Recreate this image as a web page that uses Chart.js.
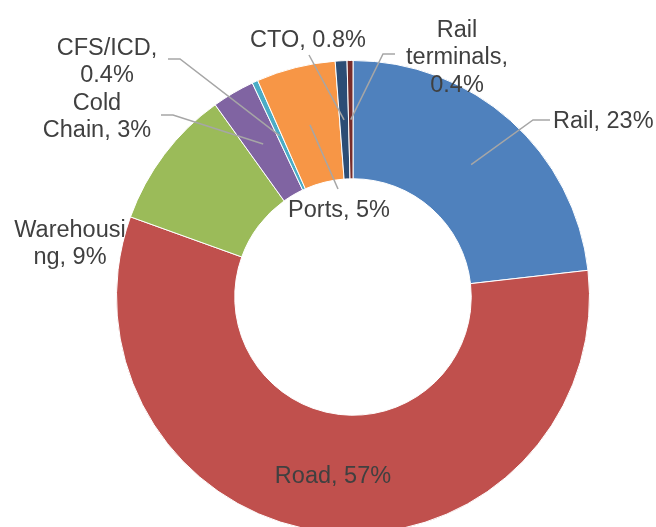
<!DOCTYPE html>
<html>
<head>
<meta charset="utf-8">
<script src="https://cdn.jsdelivr.net/npm/chart.js@4/dist/chart.umd.min.js"></script>
<style>
html,body{margin:0;padding:0;background:#fff;overflow:hidden;}
#wrap{position:relative;width:656px;height:594px;}
</style>
</head>
<body>
<div id="wrap"><canvas id="c" width="656" height="594"></canvas></div>
<script>
// ---- data ----
const categories = ["Rail", "Road", "Warehousing", "Cold Chain", "CFS/ICD", "Ports", "CTO", "Rail terminals"];
const shares = [23.2, 57.3, 9.6, 2.9, 0.4, 5.4, 0.8, 0.4];
const shownPct = ["23%", "57%", "9%", "3%", "0.4%", "5%", "0.8%", "0.4%"];
const labelLines = [
  ["Rail, 23%"],
  ["Road, 57%"],
  ["Warehousi", "ng, 9%"],
  ["Cold", "Chain, 3%"],
  ["CFS/ICD,", "0.4%"],
  ["Ports, 5%"],
  ["CTO, 0.8%"],
  ["Rail", "terminals,", "0.4%"]
];
const colors = ["#4F81BD", "#C0504D", "#9BBB59", "#8064A2", "#4BACC6", "#F79646", "#2C4D75", "#772C2A"];

// ---- label layout (positions only) ----
const labelLayout = [
  {x: 553, y: 128, align: "left",   leader: [[550,120],[533,120]]},
  {x: 333, y: 483, align: "center", leader: null},
  {x: 70,  y: 237, align: "center", leader: null, under: true},
  {x: 97,  y: 110, align: "center", leader: [[161,115],[173,115]]},
  {x: 107, y: 55,  align: "center", leader: [[168,59],[180,59]]},
  {x: 339, y: 217, align: "center", leader: [[338,189]]},
  {x: 308, y: 47,  align: "center", leader: [[309,55]]},
  {x: 457, y: 37,  align: "center", leader: [[395,54],[383,54]]}
];
const lineHeight = 27.3;
const FONT = "23.5px 'Liberation Sans', Arial, sans-serif";

function drawText(ctx, i) {
  const L = labelLayout[i];
  ctx.save();
  ctx.font = FONT;
  ctx.fillStyle = "#404040";
  ctx.textAlign = L.align;
  ctx.textBaseline = "alphabetic";
  labelLines[i].forEach((t, k) => ctx.fillText(t, L.x, L.y + k * lineHeight));
  ctx.restore();
}

const labelPlugin = {
  id: "labels",
  beforeDatasetsDraw(chart) {
    const ctx = chart.ctx;
    labelLayout.forEach((L, i) => { if (L.under) drawText(ctx, i); });
  },
  afterDatasetsDraw(chart) {
    const ctx = chart.ctx;
    const meta = chart.getDatasetMeta(0);
    ctx.save();
    ctx.strokeStyle = "#A6A6A6";
    ctx.lineWidth = 1.5;
    labelLayout.forEach((L, i) => {
      if (!L.leader) return;
      const p = meta.data[i].getCenterPoint();
      ctx.beginPath();
      ctx.moveTo(L.leader[0][0], L.leader[0][1]);
      for (let k = 1; k < L.leader.length; k++) ctx.lineTo(L.leader[k][0], L.leader[k][1]);
      ctx.lineTo(p.x, p.y);
      ctx.stroke();
    });
    ctx.restore();
    labelLayout.forEach((L, i) => { if (!L.under) drawText(ctx, i); });
  }
};

new Chart(document.getElementById("c"), {
  type: "doughnut",
  data: {
    labels: categories,
    datasets: [{
      data: shares,
      backgroundColor: colors,
      borderColor: "#FFFFFF",
      borderWidth: 1
    }]
  },
  options: {
    responsive: false,
    animation: false,
    cutout: "50%",
    layout: {padding: {top: 60, bottom: 60, left: 116, right: 66}},
    plugins: {legend: {display: false}, tooltip: {enabled: false}}
  },
  plugins: [labelPlugin]
});
</script>
</body>
</html>
